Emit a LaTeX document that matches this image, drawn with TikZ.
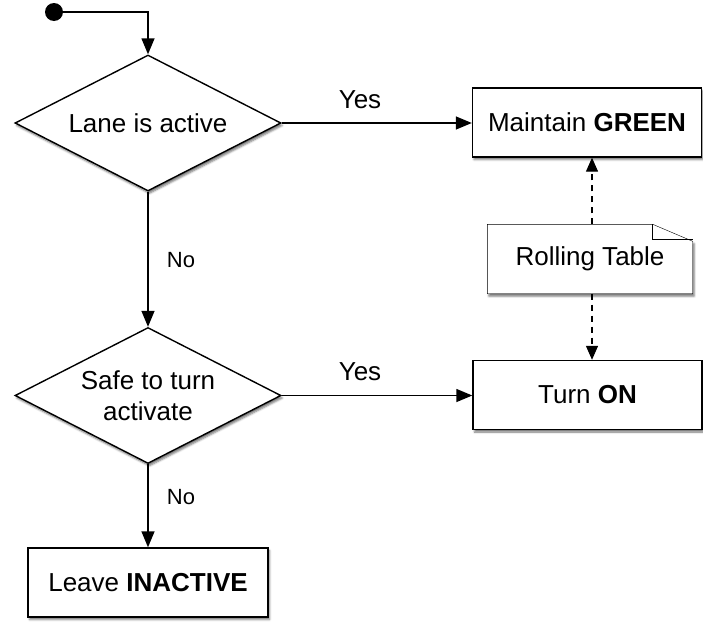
\documentclass[tikz,border=0pt]{standalone}
\usepackage{fontspec}
\setmainfont{Liberation Sans}
\usetikzlibrary{shapes.geometric,arrows.meta,shadows.blur,backgrounds}
\begin{document}
\begin{tikzpicture}[x=1pt,y=-1pt,
  line width=1.4pt,
  every node/.style={font=\fontsize{26}{31}\selectfont},
  soft/.style={blur shadow={shadow xshift=1.5pt,shadow yshift=-2.5pt,shadow blur radius=2pt,shadow opacity=55}},
  decision/.style={diamond,draw,fill=white,soft,inner sep=0pt,shape aspect=1.956,minimum width=266pt,minimum height=136pt,align=center},
  process/.style={rectangle,draw,fill=white,soft,inner sep=0pt,minimum height=69pt},
  notebox/.style={inner sep=0pt,minimum width=204pt,minimum height=68pt},
  flow/.style={-{Triangle[length=16pt,width=13pt]}},
  link/.style={dashed,dash pattern=on 6pt off 5pt,line width=1.3pt,-{Triangle[length=14pt,width=12pt]}},
  lbl/.style={inner sep=0pt}]
\useasboundingbox (0,0) rectangle (703,624);

% start marker
\fill (54,12) circle[radius=9pt];
\coordinate (start) at (54,12);

% decisions
\node[decision] (d1) at (148,123) {Lane is active};
\node[decision] (d2) at (148,395.5) {Safe to turn\\activate};

% actions
\node[process,minimum width=229pt] (green) at (587,122.5) {Maintain \textbf{GREEN}};
\node[process,minimum width=229pt] (on) at (587.5,395) {Turn \textbf{ON}};
\node[process,minimum width=240pt] (inactive) at (148,582.5) {Leave \textbf{INACTIVE}};

% note with folded corner
\node[notebox] (note) at (590,259) {Rolling Table};
\begin{scope}[on background layer]
  \draw[fill=white,soft] (note.south west) -- (note.north west)
    -- ([xshift=-40pt]note.north east) -- ([yshift=-17pt]note.north east)
    -- (note.south east) -- cycle;
  \draw[line width=1pt] ([xshift=-40pt]note.north east) -- ([xshift=-40pt,yshift=-15pt]note.north east)
    -- ([yshift=-15pt]note.north east);
\end{scope}

% flow
\draw[flow] (start) -- (start -| d1.north) -- (d1.north);
\draw[flow] (d1.east) -- (d1.east -| green.west);
\draw[flow] (d1.south) -- (d2.north);
\draw[flow] (d2.east) -- (d2.east -| on.west);
\draw[flow] (d2.south) -- (inactive.north);

% table lookups
\draw[link] (note.north -| 592,0) -- (green.south -| 592,0);
\draw[link] (note.south -| 592,0) -- (on.north -| 592,0);

% branch labels
\node[lbl] (y1) at (360,100) {Yes};
\node[lbl] (y2) at (360,372) {Yes};
\node[lbl,font=\fontsize{22}{26}\selectfont] (n1) at (181,260) {No};
\node[lbl,font=\fontsize{22}{26}\selectfont] (n2) at (181,497) {No};
\end{tikzpicture}
\end{document}
